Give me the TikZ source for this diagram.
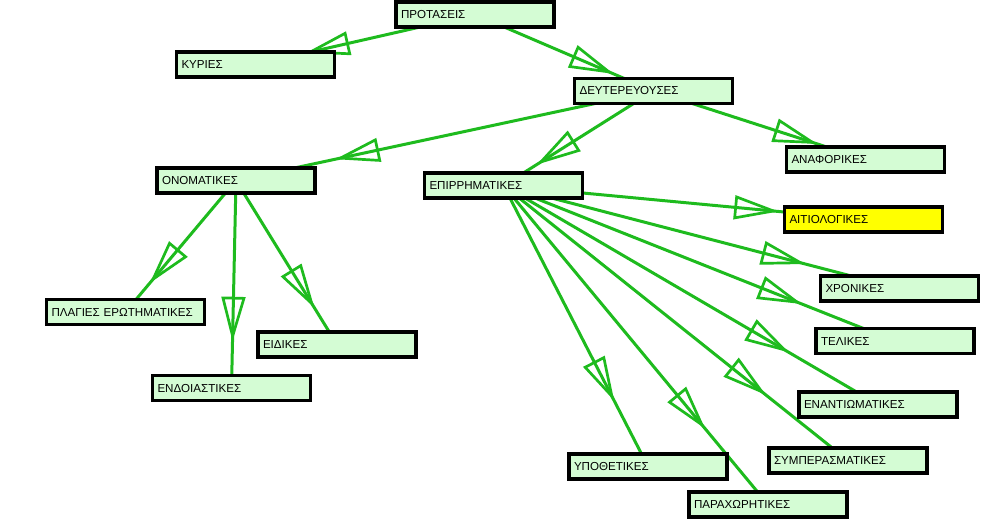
\documentclass[tikz,border=0pt]{standalone}
\usepackage{fontspec}
\setmainfont{Liberation Sans}
\usetikzlibrary{decorations.markings}
\pgfdeclarelayer{background}
\pgfsetlayers{background,main}
\definecolor{edgegreen}{RGB}{30,187,30}
\definecolor{boxfill}{RGB}{212,252,212}
\definecolor{hiyellow}{RGB}{255,255,0}
\tikzset{
  box/.style={draw=black, line width=3.2pt, fill=boxfill, text width=148pt, align=left,
    inner xsep=5pt, inner ysep=0pt, minimum height=25pt, font=\fontsize{11.6}{13}\selectfont},
  hibox/.style={box, fill=hiyellow},
  link/.style={draw=edgegreen, line width=3pt, postaction={decorate},
    decoration={markings, mark=at position 0.75 with {
      \draw[edgegreen, line width=2.7pt, line join=miter] (-38pt,10.5pt) -- (0pt,0pt) -- (-38pt,-10.5pt) -- cycle;}}}
}
\begin{document}
\begin{tikzpicture}[x=1pt,y=-1pt]
\useasboundingbox (0,0) rectangle (991,531);
\node[box] (prot) at (475,14.5) {ΠΡΟΤΑΣΕΙΣ};
\node[box] (kyr) at (255.5,64.5) {ΚΥΡΙΕΣ};
\node[box] (deut) at (653.5,91) {ΔΕΥΤΕΡΕΥΟΥΣΕΣ};
\node[box] (anaf) at (865.5,159.5) {ΑΝΑΦΟΡΙΚΕΣ};
\node[hibox] (aitio) at (863.5,219.5) {ΑΙΤΙΟΛΟΓΙΚΕΣ};
\node[box] (onom) at (236,180.5) {ΟΝΟΜΑΤΙΚΕΣ};
\node[box] (epir) at (503.5,185.5) {ΕΠΙΡΡΗΜΑΤΙΚΕΣ};
\node[box] (plag) at (125.5,312) {ΠΛΑΓΙΕΣ ΕΡΩΤΗΜΑΤΙΚΕΣ};
\node[box] (eid) at (337,344.5) {ΕΙΔΙΚΕΣ};
\node[box] (endo) at (231.5,388) {ΕΝΔΟΙΑΣΤΙΚΕΣ};
\node[box] (xron) at (899.5,288.5) {ΧΡΟΝΙΚΕΣ};
\node[box] (tel) at (895,341) {ΤΕΛΙΚΕΣ};
\node[box] (enant) at (878,404.5) {ΕΝΑΝΤΙΩΜΑΤΙΚΕΣ};
\node[box] (symp) at (848,460.5) {ΣΥΜΠΕΡΑΣΜΑΤΙΚΕΣ};
\node[box] (ypoth) at (648,466.5) {ΥΠΟΘΕΤΙΚΕΣ};
\node[box] (parax) at (768,504.5) {ΠΑΡΑΧΩΡΗΤΙΚΕΣ};
\begin{pgfonlayer}{background}
\draw[link] (prot.center) -- (kyr.center);
\draw[link] (prot.center) -- (deut.center);
\draw[link] (deut.center) -- (onom.center);
\draw[link] (deut.center) -- (epir.center);
\draw[link] (deut.center) -- (anaf.center);
\draw[link] (onom.center) -- (plag.center);
\draw[link] (onom.center) -- (endo.center);
\draw[link] (onom.center) -- (eid.center);
\draw[link] (epir.center) -- (aitio.center);
\draw[link] (epir.center) -- (xron.center);
\draw[link] (epir.center) -- (tel.center);
\draw[link] (epir.center) -- (enant.center);
\draw[link] (epir.center) -- (symp.center);
\draw[link] (epir.center) -- (parax.center);
\draw[link] (epir.center) -- (ypoth.center);
\end{pgfonlayer}
\end{tikzpicture}
\end{document}
